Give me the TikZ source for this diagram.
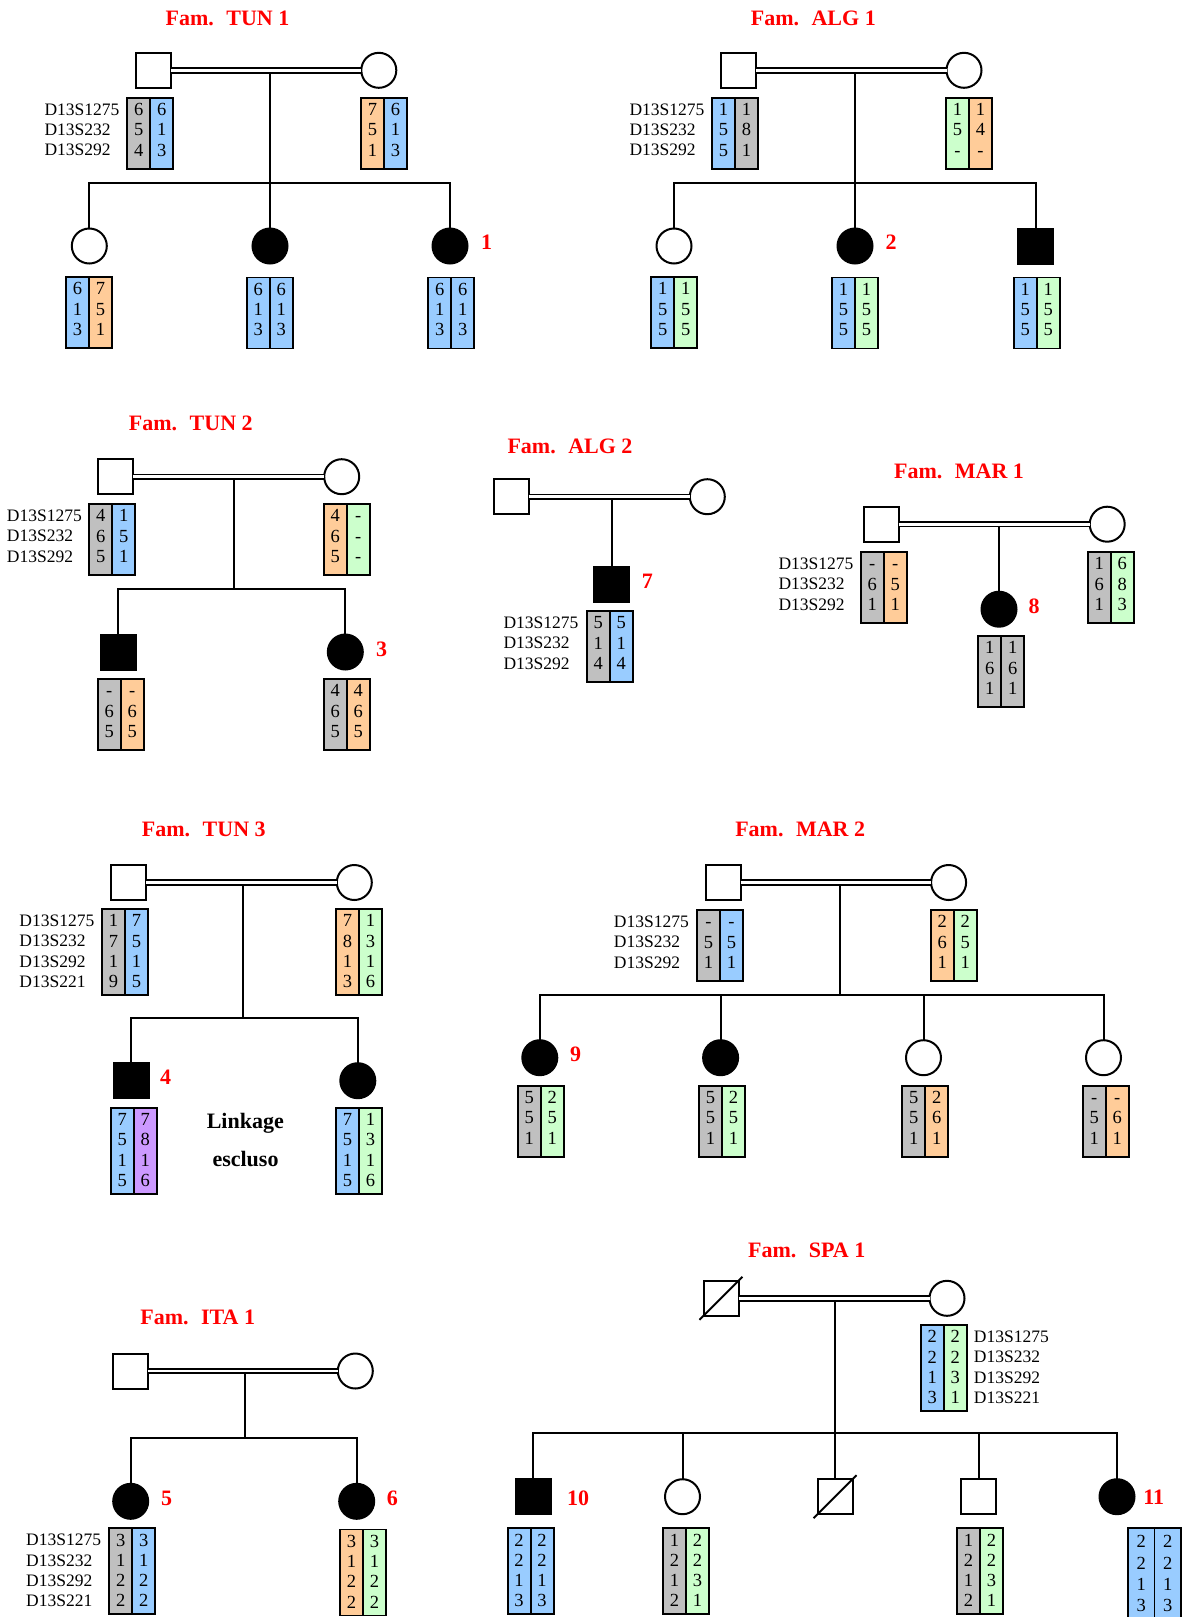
\documentclass[tikz,border=0pt]{standalone}
\usepackage{fontspec}
\setmainfont{Liberation Serif}
\usetikzlibrary{calc}
\definecolor{hgray}{HTML}{C0C0C0}
\definecolor{hblue}{HTML}{99CCFF}
\definecolor{horange}{HTML}{FFCC99}
\definecolor{hgreen}{HTML}{CCFFCC}
\definecolor{hpurple}{HTML}{CC99FF}
\definecolor{hred}{HTML}{FF0000}
\newcommand\hfont{\fontsize{17.5pt}{20pt}\selectfont}
\newcommand\nfont{\fontsize{18.5pt}{20pt}\selectfont}
\newcommand\tfont{\fontsize{22pt}{24pt}\selectfont\bfseries}
\tikzset{
 ind/.style={draw=black, line width=2pt, minimum size=35pt, inner sep=0pt, outer sep=0pt, fill=white},
 male/.style={ind, rectangle},
 female/.style={ind, circle},
 aff/.style={fill=black},
 conn/.style={line width=2pt},
 marr/.style={line width=1.8pt, double=white, double distance=2.8pt},
 ttl/.style={text=hred, font=\tfont, anchor=base, inner sep=0pt},
 idl/.style={text=hred, font=\tfont, anchor=base, yshift=-7.4pt, inner sep=0pt},
 note/.style={font=\tfont, anchor=base, inner sep=0pt},
 hapcol/.style={draw=black, line width=1.8pt, inner sep=0pt, outer sep=0pt},
 hapnum/.style={font=\nfont, anchor=base, yshift=-6.2pt, inner sep=0pt},
 mk/.style={font=\hfont, anchor=base west, yshift=-5.9pt, inner sep=0pt},
}
\def\hw{23}\def\hs{20.3}\def\hextra{0}\def\hf{11.5}
% name, x, ytop, n, colA, colB, list
\newcommand\hapbox[7]{%
  \pgfmathsetmacro\hpH{15*#4+26+\hextra}%
  \node[hapcol, fill=#5, minimum width=\hw pt, minimum height=\hpH pt, anchor=north west] (#1a) at (#2,#3) {};
  \node[hapcol, fill=#6, minimum width=\hw pt, minimum height=\hpH pt, anchor=north west] (#1b) at (#1a.north east) {};
  \foreach \u/\v [count=\k] in {#7} {
    \node[hapnum] (#1a\k) at ($(#1a.north)+(0,{\hf+\hs*(\k-1)})$) {\u};
    \node[hapnum] (#1b\k) at ($(#1b.north)+(0,{\hf+\hs*(\k-1)})$) {\v};
  }
}
% name, x, ytop, n
\newcommand\markers[4]{%
  \foreach \mm [count=\k] in {D13S1275,D13S232,D13S292,D13S221} {
    \ifnum\k>#4\relax\else
      \node[mk] (#1\k) at (#2,{#3+\hf+\hs*(\k-1)}) {\mm};
    \fi
  }
}
\begin{document}
\begin{tikzpicture}[x=1pt,y=-1pt]
\useasboundingbox (0,0) rectangle (1187,1617);

% ---------------- TUN 1
\node[ttl] (t1title) at (227.5,25) {Fam.\hspace{12.5pt}TUN 1};
\node[male] (t1f) at (153.5,70.3) {};
\node[female] (t1m) at (378.8,70.3) {};
\node[female] (t1c1) at (89.3,246) {};
\node[female,aff] (t1c2) at (270,246) {};
\node[female,aff] (t1c3) at (450,246) {};
\node[idl] (t1l3) at (486.7,242.5) {1};
\coordinate (t1d) at (270,72.6);
\coordinate (t1s) at (270,182.7);
\draw[marr] (t1f.east) -- (t1m.west);
\draw[conn] (t1d) -- (t1s);
\draw[conn] (t1c1.north) -- (t1c1.north |- t1s) -- (t1c3.north |- t1s) -- (t1c3.north);
\draw[conn] (t1c2.north) -- (t1c2.north |- t1s);
\markers{t1mk}{44.3}{97.7}{3}
\hapbox{t1fh}{127.3}{97.7}{3}{hgray}{hblue}{6/6,5/1,4/3}
\hapbox{t1mh}{361}{97.7}{3}{horange}{hblue}{7/6,5/1,1/3}
\hapbox{t1c1h}{66}{277}{3}{hblue}{horange}{6/7,1/5,3/1}
\hapbox{t1c2h}{246.7}{277.5}{3}{hblue}{hblue}{6/6,1/1,3/3}
\hapbox{t1c3h}{428.3}{277.5}{3}{hblue}{hblue}{6/6,1/1,3/3}

% ---------------- ALG 1
\node[ttl] (a1title) at (813.3,25) {Fam.\hspace{12.5pt}ALG 1};
\node[male] (a1f) at (738.3,70.3) {};
\node[female] (a1m) at (964,70.3) {};
\node[female] (a1c1) at (674,246) {};
\node[female,aff] (a1c2) at (855,246) {};
\node[male,aff] (a1c3) at (1035.7,246) {};
\node[idl] (a1l2) at (891,242.5) {2};
\coordinate (a1d) at (855,72.6);
\coordinate (a1s) at (855,182.7);
\draw[marr] (a1f.east) -- (a1m.west);
\draw[conn] (a1d) -- (a1s);
\draw[conn] (a1c1.north) -- (a1c1.north |- a1s) -- (a1c3.north |- a1s) -- (a1c3.north);
\draw[conn] (a1c2.north) -- (a1c2.north |- a1s);
\markers{a1mk}{629.3}{97.7}{3}
\hapbox{a1fh}{712}{97.7}{3}{hblue}{hgray}{1/1,5/8,5/1}
\hapbox{a1mh}{946}{97.7}{3}{hgreen}{horange}{1/1,5/4,-/-}
\hapbox{a1c1h}{651.3}{277}{3}{hblue}{hgreen}{1/1,5/5,5/5}
\hapbox{a1c2h}{832}{277.5}{3}{hblue}{hgreen}{1/1,5/5,5/5}
\hapbox{a1c3h}{1013.7}{277.5}{3}{hblue}{hgreen}{1/1,5/5,5/5}

% ---------------- TUN 2
\node[ttl] (t2title) at (190.8,430.7) {Fam.\hspace{12.5pt}TUN 2};
\node[male] (t2f) at (115.8,476.7) {};
\node[female] (t2m) at (341.7,476.7) {};
\node[male,aff] (t2c1) at (118.3,652) {};
\node[female,aff] (t2c2) at (345.3,652) {};
\node[idl] (t2l3) at (381.7,649) {3};
\coordinate (t2d) at (233.7,479);
\coordinate (t2s) at (233.7,589);
\draw[marr] (t2f.east) -- (t2m.west);
\draw[conn] (t2d) -- (t2s);
\draw[conn] (t2c1.north) -- (t2c1.north |- t2s) -- (t2c2.north |- t2s) -- (t2c2.north);
\markers{t2mk}{6.7}{504}{3}
\hapbox{t2fh}{89.3}{504}{3}{hgray}{hblue}{4/1,6/5,5/1}
\hapbox{t2mh}{323.7}{504}{3}{horange}{hgreen}{4/-,6/-,5/-}
\hapbox{t2c1h}{97.7}{679}{3}{hgray}{horange}{-/-,6/6,5/5}
\hapbox{t2c2h}{323.7}{679}{3}{hgray}{horange}{4/4,6/6,5/5}

% ---------------- ALG 2
\node[ttl] (a2title) at (570,453.3) {Fam.\hspace{12.5pt}ALG 2};
\node[male] (a2f) at (511.3,496.7) {};
\node[female] (a2m) at (707.3,496.7) {};
\node[male,aff] (a2c) at (611.5,584.2) {};
\node[idl] (a2l7) at (647.3,580.7) {7};
\coordinate (a2d) at (611.5,499);
\draw[marr] (a2f.east) -- (a2m.west);
\draw[conn] (a2d) -- (a2c.north);
\markers{a2mk}{503.3}{611}{3}
\hapbox{a2ch}{586.7}{611}{3}{hgray}{hblue}{5/5,1/1,4/4}

% ---------------- MAR 1
\node[ttl] (m1title) at (959,478.3) {Fam.\hspace{12.5pt}MAR 1};
\node[male] (m1f) at (881,524.2) {};
\node[female] (m1m) at (1107.2,524.2) {};
\node[female,aff] (m1c) at (999,609.2) {};
\node[idl] (m1l8) at (1034,605.8) {8};
\coordinate (m1d) at (999,526.5);
\draw[marr] (m1f.east) -- (m1m.west);
\draw[conn] (m1d) -- (m1c.north);
\markers{m1mk}{778.3}{552}{3}
\hapbox{m1fh}{860.7}{552}{3}{hgray}{horange}{-/-,6/5,1/1}
\hapbox{m1mh}{1087.7}{552}{3}{hgray}{hgreen}{1/6,6/8,1/3}
\hapbox{m1ch}{978.3}{636}{3}{hgray}{hgray}{1/1,6/6,1/1}

% ---------------- TUN 3
\node[ttl] (t3title) at (203.8,836.7) {Fam.\hspace{12.5pt}TUN 3};
\node[male] (t3f) at (128.7,882.5) {};
\node[female] (t3m) at (354.3,882.5) {};
\node[male,aff] (t3c1) at (131.3,1080.7) {};
\node[female,aff] (t3c2) at (357.8,1080.7) {};
\node[idl] (t3l4) at (165.7,1076.7) {4};
\coordinate (t3d) at (243.3,884.8);
\coordinate (t3s) at (243.3,1018);
\draw[marr] (t3f.east) -- (t3m.west);
\draw[conn] (t3d) -- (t3s);
\draw[conn] (t3c1.north) -- (t3c1.north |- t3s) -- (t3c2.north |- t3s) -- (t3c2.north);
\markers{t3mk}{19.3}{909}{4}
\hapbox{t3fh}{102}{909}{4}{hgray}{hblue}{1/7,7/5,1/1,9/5}
\hapbox{t3mh}{336}{909}{4}{horange}{hgreen}{7/1,8/3,1/1,3/6}
\hapbox{t3c1h}{110.7}{1107.7}{4}{hblue}{hpurple}{7/7,5/8,1/1,5/6}
\hapbox{t3c2h}{336}{1107.7}{4}{hblue}{hgreen}{7/1,5/3,1/1,5/6}
\node[note] (t3n1) at (245.3,1128.3) {Linkage};
\node[note] (t3n2) at (245.5,1166.7) {escluso};

% ---------------- MAR 2
\node[ttl] (m2title) at (800.2,836) {Fam.\hspace{12.5pt}MAR 2};
\node[male] (m2f) at (723,882.5) {};
\node[female] (m2m) at (948.6,882.5) {};
\node[female,aff] (m2c1) at (539.8,1057.7) {};
\node[female,aff] (m2c2) at (720.6,1057.7) {};
\node[female] (m2c3) at (923.5,1057.7) {};
\node[female] (m2c4) at (1103.5,1057.7) {};
\node[idl] (m2l9) at (575.7,1054) {9};
\coordinate (m2d) at (840.2,884.8);
\coordinate (m2s) at (840.2,995);
\draw[marr] (m2f.east) -- (m2m.west);
\draw[conn] (m2d) -- (m2s);
\draw[conn] (m2c1.north) -- (m2c1.north |- m2s) -- (m2c4.north |- m2s) -- (m2c4.north);
\draw[conn] (m2c2.north) -- (m2c2.north |- m2s);
\draw[conn] (m2c3.north) -- (m2c3.north |- m2s);
\markers{m2mk}{613.7}{910}{3}
\hapbox{m2fh}{697}{910}{3}{hgray}{hblue}{-/-,5/5,1/1}
\hapbox{m2mh}{930.8}{910}{3}{horange}{hgreen}{2/2,6/5,1/1}
\hapbox{m2c1h}{517.8}{1085.7}{3}{hgray}{hgreen}{5/2,5/5,1/1}
\hapbox{m2c2h}{699}{1085.7}{3}{hgray}{hgreen}{5/2,5/5,1/1}
\hapbox{m2c3h}{902.2}{1085.7}{3}{hgray}{horange}{5/2,5/6,1/1}
\hapbox{m2c4h}{1082.7}{1085.7}{3}{hgray}{horange}{-/-,5/6,1/1}

% ---------------- ITA 1
\node[ttl] (i1title) at (197.7,1324.3) {Fam.\hspace{12.5pt}ITA 1};
\node[male] (i1f) at (130.2,1371) {};
\node[female] (i1m) at (355.3,1371) {};
\node[female,aff] (i1c1) at (130.7,1501.3) {};
\node[female,aff] (i1c2) at (356.7,1501.3) {};
\node[idl] (i1l5) at (166.7,1498.3) {5};
\node[idl] (i1l6) at (392.3,1498.3) {6};
\coordinate (i1d) at (245,1373.3);
\coordinate (i1s) at (245,1437.7);
\draw[marr] (i1f.east) -- (i1m.west);
\draw[conn] (i1d) -- (i1s);
\draw[conn] (i1c1.north) -- (i1c1.north |- i1s) -- (i1c2.north |- i1s) -- (i1c2.north);
\markers{i1mk}{26}{1528.3}{4}
\hapbox{i1c1h}{109.3}{1528.3}{4}{hgray}{hblue}{3/3,1/1,2/2,2/2}
\hapbox{i1c2h}{340}{1529.5}{4}{horange}{hgreen}{3/3,1/1,2/2,2/2}

% ---------------- SPA 1
\node[ttl] (s1title) at (806.7,1257.3) {Fam.\hspace{12.5pt}SPA 1};
\node[male] (s1f) at (721,1298.3) {};
\node[female] (s1m) at (947,1298.3) {};
\node[male,aff] (s1c1) at (533,1496.7) {};
\node[female] (s1c2) at (682.5,1496.7) {};
\node[male] (s1c3) at (835,1496.7) {};
\node[male] (s1c4) at (978.5,1496.7) {};
\node[female,aff] (s1c5) at (1117,1496.7) {};
\node[idl] (s1l10) at (578.1,1497.7) {10};
\node[idl] (s1l11) at (1153.7,1496.7) {11};
\draw[conn] ($(s1f.south west)+(-4,4)$) -- ($(s1f.north east)+(4,-4)$);
\draw[conn] ($(s1c3.south west)+(-4,4)$) -- ($(s1c3.north east)+(4,-4)$);
\coordinate (s1d) at (835,1300.6);
\coordinate (s1s) at (835,1432.7);
\draw[marr] (s1f.east) -- (s1m.west);
\draw[conn] (s1d) -- (s1s);
\draw[conn] (s1c1.north) -- (s1c1.north |- s1s) -- (s1c5.north |- s1s) -- (s1c5.north);
\draw[conn] (s1c2.north) -- (s1c2.north |- s1s);
\draw[conn] (s1c3.north) -- (s1c3.north |- s1s);
\draw[conn] (s1c4.north) -- (s1c4.north |- s1s);
\hapbox{s1mh}{920.8}{1325}{4}{hblue}{hgreen}{2/2,2/2,1/3,3/1}
\markers{s1mk}{973.7}{1325}{4}
\hapbox{s1c1h}{507.6}{1528.3}{4}{hblue}{hblue}{2/2,2/2,1/1,3/3}
\hapbox{s1c2h}{663.1}{1528.3}{4}{hgray}{hgreen}{1/2,2/2,1/3,2/1}
\hapbox{s1c4h}{957}{1528.3}{4}{hgray}{hgreen}{1/2,2/2,1/3,2/1}
\begin{scope}
\def\hw{26.5}\def\hs{21.3}\def\hextra{4}\def\hf{13.4}
\hapbox{s1c5h}{1128}{1528.3}{4}{hblue}{hblue}{2/2,2/2,1/1,3/3}
\end{scope}
\end{tikzpicture}
\end{document}
